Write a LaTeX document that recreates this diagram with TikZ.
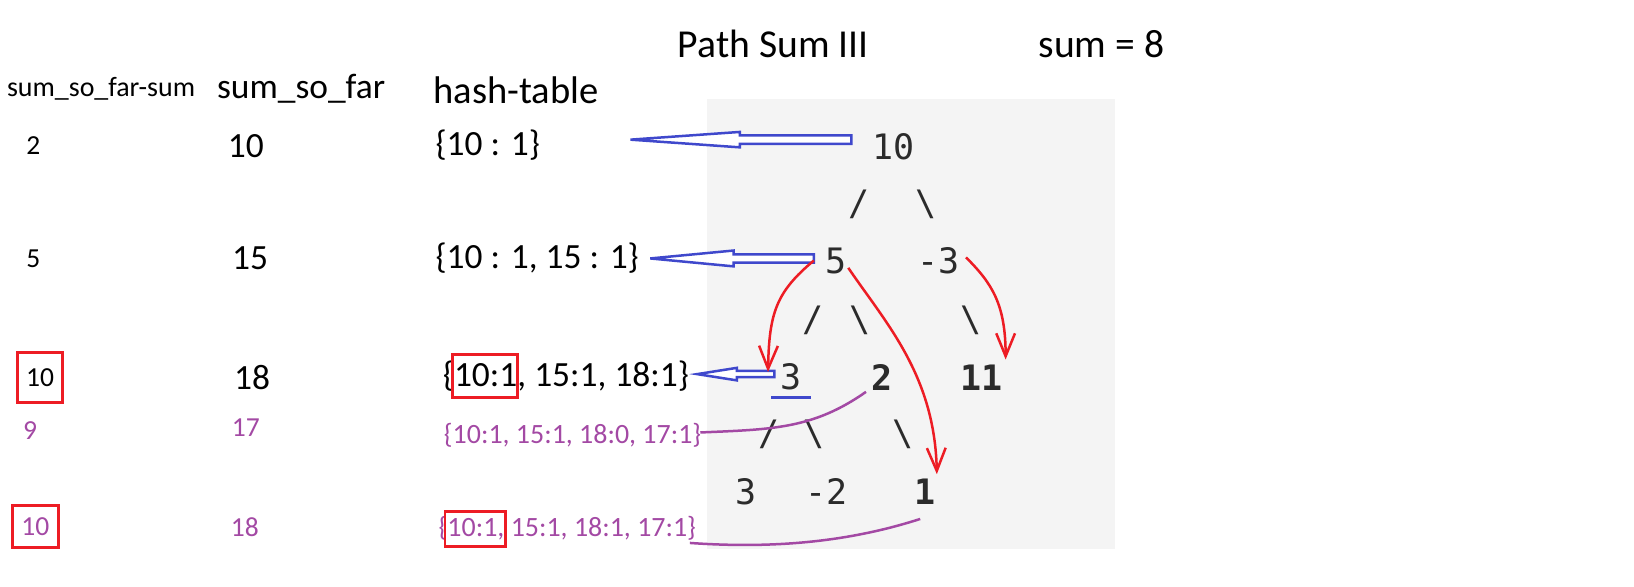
\documentclass[tikz,border=0pt]{standalone}
\usepackage{fontspec}
\setmainfont{Carlito}
\newfontfamily\monof{DejaVu Sans Mono}
\usetikzlibrary{arrows.meta,calc}
\definecolor{bl}{HTML}{3F48CC}
\definecolor{rd}{HTML}{ED1C24}
\definecolor{pu}{HTML}{A349A4}
\definecolor{bgc}{HTML}{F4F4F4}
\definecolor{trc}{HTML}{2B2B2B}
\newcommand\hollowarrow[5]{%
  \draw[bluearr] let \p1=(#1), \p2=(#2) in
   (\x1,\y2+#4) -- (\x2+#3,\y2+#4) -- (\x2+#3,\y2+#5) -- (\x2,\y2) --
   (\x2+#3,\y2-#5) -- (\x2+#3,\y2-#4) -- (\x1,\y2-#4) -- cycle;}
\begin{document}
\begin{tikzpicture}[x=0.5pt,y=-0.5pt,
  tx/.style={inner sep=0pt,outer sep=0pt},
  title/.style={tx,font=\fontsize{19}{22}\selectfont},
  head/.style={tx,font=\fontsize{17}{20}\selectfont},
  big/.style={tx,font=\fontsize{17}{20}\selectfont},
  small/.style={tx,font=\fontsize{13.2}{15}\selectfont},
  psmall/.style={small,text=pu},
  phash/.style={tx,text=pu,font=\fontsize{13.4}{16}\selectfont},
  tree/.style={tx,text=trc,font=\monof\fontsize{16.8}{19}\selectfont},
  treeb/.style={tree,font=\monof\bfseries\fontsize{16.8}{19}\selectfont},
  redbox/.style={draw=rd,line width=1.4pt},
  bluearr/.style={draw=bl,line width=1.2pt,fill=white},
  redarr/.style={draw=rd,line width=1.2pt,-{Straight Barb[length=11pt,width=9pt]}},
  purp/.style={draw=pu,line width=1.2pt}]
\useasboundingbox (0,0) rectangle (1568,563);
\fill[bgc] (678,95) rectangle (1070,527);

% headers
\node[title] (ttl) at (742,42) {Path Sum III};
\node[title] (sum) at (1057,42) {sum = 8};
\node[tx,font=\fontsize{13.4}{16}\selectfont] (h1) at (97,85) {sum\_so\_far-sum};
\node[head] (h2) at (289,85) {sum\_so\_far};
\node[tx,font=\fontsize{18.5}{22}\selectfont,anchor=west] (h3) at (416,87) {hash-table};

% rows
\node[small] (a1) at (32,140) {2};
\node[big] (b1) at (236,140) {10};
\node[big,anchor=west] (c1) at (418,139) {\{10 : 1\}};
\node[small] (a2) at (32,248) {5};
\node[big] (b2) at (240,248) {15};
\node[big,anchor=west] (c2) at (418,248) {\{10 : 1, 15 : 1\}};
\node[small,draw=rd,line width=1.4pt,minimum width=21.5pt,minimum height=24pt] (a3) at (38.5,362) {10};
\node[big] (b3) at (242,362) {18};
\node[big,anchor=west] (c3) at (425,361) {\{10:1, 15:1, 18:1\}};
\draw[redbox] (434,340) rectangle (497,381);
\node[psmall] (a4) at (29,413) {9};
\node[psmall] (b4) at (236,410) {17};
\node[phash,anchor=west] (c4) at (426,418) {\{10:1, 15:1, 18:0, 17:1\}};
\node[psmall,draw=rd,line width=1.4pt,minimum width=22pt,minimum height=20pt] (a5) at (34,505) {10};
\node[psmall] (b5) at (235,506) {18};
\node[phash,anchor=west] (c5) at (421,507) {\{10:1, 15:1, 18:1, 17:1\}};
\draw[redbox] (427,491) rectangle (485,524);

% tree
\node[tree] (t10) at (857,141) {10};
\node[tree] (s1) at (824,196) {/};
\node[tree] (s2) at (889,196) {\textbackslash};
\node[tree] (t5) at (802,250) {5};
\node[tree] (tm3) at (901,250) {-3};
\node[tree] (s3) at (780,307) {/};
\node[tree] (s4) at (825,307) {\textbackslash};
\node[tree] (s5) at (932,307) {\textbackslash};
\node[tree] (t3) at (759,362) {3};
\node[treeb] (t2) at (846,362) {2};
\node[treeb] (t11) at (942,362) {11};
\node[tree] (s6) at (738,417) {/};
\node[tree] (s7) at (781,417) {\textbackslash};
\node[tree] (s8) at (867,417) {\textbackslash};
\node[tree] (t3b) at (716,472) {3};
\node[tree] (tm2) at (793,472) {-2};
\node[treeb] (t1) at (888,472) {1};
\draw[bl,line width=1.4pt] (740,381) -- (778,381);

% blue hollow arrows
\coordinate (ar1s) at (817,134); \coordinate (ar1e) at (605,134);
\coordinate (ar2s) at (781,248); \coordinate (ar2e) at (624,248);
\coordinate (ar3s) at (743,359); \coordinate (ar3e) at (669,359);
\hollowarrow{ar1s}{ar1e}{52.5pt}{2pt}{3.7pt}
\hollowarrow{ar2s}{ar2e}{40pt}{2pt}{3.8pt}
\hollowarrow{ar3s}{ar3e}{19pt}{1.5pt}{3pt}

% red arrows
\coordinate (r1s) at (781,250); \coordinate (r1e) at (737,357);
\coordinate (r2s) at (814,257); \coordinate (r2e) at (899,455);
\coordinate (r3s) at (927,247); \coordinate (r3e) at (965,345);
\draw[redarr] (r1s) .. controls (745,280) and (738,300) .. (r1e);
\draw[redarr] (r2s) .. controls (850,310) and (897,360) .. (r2e);
\draw[redarr] (r3s) .. controls (952,272) and (965,292) .. (r3e);

% purple lines
\coordinate (p1s) at (672,415); \coordinate (p1e) at (831,376);
\coordinate (p2s) at (662,521); \coordinate (p2e) at (883,498);
\draw[purp] (p1s) .. controls (740,412) and (780,412) .. (p1e);
\draw[purp] (p2s) .. controls (760,528) and (830,515) .. (p2e);
\end{tikzpicture}
\end{document}
